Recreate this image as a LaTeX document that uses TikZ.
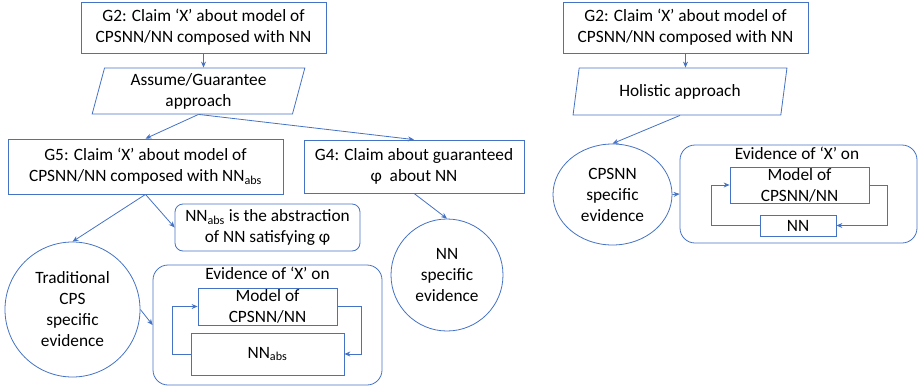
\documentclass[tikz,border=0pt]{standalone}
\usepackage{fontspec}
\setmainfont{Carlito}
\usepackage{xcolor}
\usetikzlibrary{arrows.meta,shapes.geometric}
\definecolor{boxblue}{HTML}{4472C4}

\begin{document}
\begin{tikzpicture}[x=1pt,y=-1pt,>={Stealth[length=6pt,width=5pt]},
  line width=0.8pt,
  box/.style={draw=boxblue,align=center,inner sep=0pt,font=\fontsize{17.3}{21}\selectfont},
  para/.style={box,trapezium,trapezium left angle=76,trapezium right angle=104,trapezium stretches=true},
  rbox/.style={box,rounded corners=8pt},
  evid/.style={box,ellipse},
  lab/.style={font=\fontsize{17.3}{21}\selectfont,inner sep=0pt},
  link/.style={draw=boxblue,->}]
  \useasboundingbox (0,0) rectangle (918,389);
  % ---- assume/guarantee side ----
  \node[box,minimum width=245pt,minimum height=51pt] (g2L) at (203.5,27.5)
    {G2: Claim ‘X’ about model of\\CPSNN/NN composed with NN};
  \node[para,minimum width=213pt,minimum height=46pt] (agL) at (198.5,91)
    {Assume/Guarantee\\approach};
  \node[box,minimum width=275pt,minimum height=55pt] (g5) at (145.5,166.5)
    {G5: Claim ‘X’ about model of\\CPSNN/NN composed with NN\textsubscript{abs}};
  \node[box,minimum width=220pt,minimum height=53pt] (g4) at (414,166.5)
    {G4: Claim about guaranteed\\φ\ \ about NN};
  \node[rbox,minimum width=185pt,minimum height=47pt] (absL) at (267.5,227.5)
    {NN\textsubscript{abs} is the abstraction\\of NN satisfying φ};
  \node[evid,minimum size=135pt] (trad) at (72.5,309.5) {Traditional\\CPS\\specific\\evidence};
  \node[evid,minimum size=112pt] (nnev) at (447,275) {NN\\specific\\evidence};
  \node[rbox,rounded corners=15pt,minimum width=229pt,minimum height=120pt] (evL) at (267.5,325) {};
  \node[lab] (evLt) at (267.5,273) {Evidence of ‘X’ on};
  \node[box,minimum width=139pt,minimum height=37pt] (modL) at (267.5,306.5) {Model of\\CPSNN/NN};
  \node[box,minimum width=153pt,minimum height=42pt] (nnaL) at (267.5,354) {NN\textsubscript{abs}};
  \draw[link] (g2L) -- (g2L |- agL.north);
  \draw[link] (agL.south) -- (g5.north);
  \draw[link] (agL.south) -- (g4.north);
  \draw[link] (g5.south) -- (trad.north);
  \draw[link] (g5.south) -- (absL.west);
  \draw[link] (g4.south) -- (nnev.north);
  \draw[link] (trad.east) -- (evL.west);
  \draw[link] (nnaL.west) -- ++(-18,0) |- (modL.west);
  \draw[link] (modL.east) -- ++(24,0) |- (nnaL.east);
  % ---- holistic side ----
  \node[box,minimum width=245pt,minimum height=51pt] (g2R) at (685.5,27.5)
    {G2: Claim ‘X’ about model of\\CPSNN/NN composed with NN};
  \node[para,minimum width=214pt,minimum height=47pt] (hoR) at (680,91.5) {Holistic approach};
  \node[evid,minimum width=119pt,minimum height=101pt] (cpR) at (612.5,194.5) {CPSNN\\specific\\evidence};
  \node[rbox,rounded corners=15pt,minimum width=237pt,minimum height=98pt] (evR) at (798.5,194) {};
  \node[lab] (evRt) at (797,153) {Evidence of ‘X’ on};
  \node[box,minimum width=139pt,minimum height=36pt] (moR) at (799.5,185) {Model of\\CPSNN/NN};
  \node[box,minimum width=76pt,minimum height=21pt] (nnR) at (798,225.5) {NN};
  \draw[link] (g2R) -- (g2R |- hoR.north);
  \draw[link] (hoR.south) -- (cpR.north);
  \draw[link] (cpR.east) -- (evR.west);
  \draw[link] (nnR.west) -- ++(-48,0) |- (moR.west);
  \draw[link] (moR.east) -- ++(18,0) |- (nnR.east);
\end{tikzpicture}
\end{document}
